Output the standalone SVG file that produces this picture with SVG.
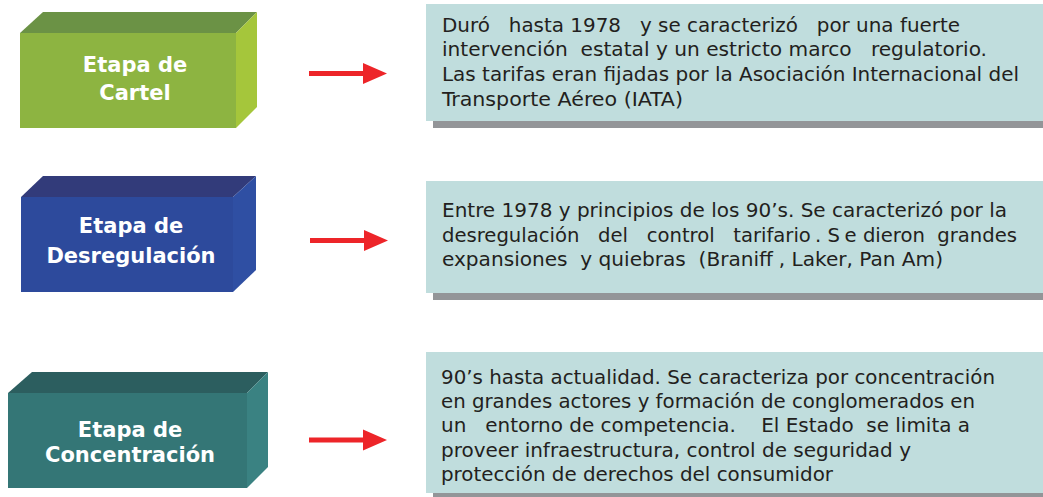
<svg xmlns="http://www.w3.org/2000/svg" width="1043" height="497" viewBox="0 0 1043 497">
<style>
.lbl{font-family:"DejaVu Sans","Liberation Sans",sans-serif;font-weight:bold;font-size:21px;fill:#ffffff;text-anchor:middle}
.txt{font-family:"DejaVu Sans Condensed","DejaVu Sans","Liberation Sans",sans-serif;font-stretch:condensed;font-size:19px;fill:#231f20}
.card{fill:#c0dddd}
.shadow{fill:#939598}
.arrow{fill:#ed2529}
</style>
<defs>
<path id="arr" d="M0,-2.5 H54 V-10.5 L78,0 L54,10.5 V2.5 H0 Z"/>
</defs>
<rect width="1043" height="497" fill="#ffffff"/>

<g id="node-cartel">
<polygon points="20,33 43,12 257,12 236,33" fill="#6b9245"/>
<polygon points="236,33 257,12 257,107 236,128" fill="#a5c63b"/>
<rect x="20" y="33" width="216" height="95" fill="#8db441"/>
<text class="lbl" x="135" y="72">Etapa de</text>
<text class="lbl" x="135" y="100">Cartel</text>
</g>

<g id="node-desregulacion">
<polygon points="21,197 43,176 256,176 233,197" fill="#323b7a"/>
<polygon points="233,197 256,176 256,270 233,292" fill="#2f4fa3"/>
<rect x="21" y="197" width="212" height="95" fill="#2d4a9c"/>
<text class="lbl" x="131" y="233">Etapa de</text>
<text class="lbl" x="131" y="263">Desregulación</text>
</g>

<g id="node-concentracion">
<polygon points="8,393 32,372 268,372 247,393" fill="#2c5e5f"/>
<polygon points="247,393 268,372 268,467 247,488" fill="#3a8282"/>
<rect x="8" y="393" width="239" height="95" fill="#347676"/>
<text class="lbl" x="130" y="437">Etapa de</text>
<text class="lbl" x="130" y="462">Concentración</text>
</g>

<g id="connectors">
<use href="#arr" class="arrow" transform="translate(309,73.5)"/>
<use href="#arr" class="arrow" transform="translate(310,240.5)"/>
<use href="#arr" class="arrow" transform="translate(309,440)"/>
</g>

<g id="node-desc-cartel">
<rect class="shadow" x="433" y="11" width="617" height="117"/>
<rect class="card" x="426" y="4" width="617" height="117"/>
<text class="txt" xml:space="preserve" x="442" y="32" textLength="518" lengthAdjust="spacingAndGlyphs">Duró   hasta 1978   y se caracterizó   por una fuerte</text>
<text class="txt" xml:space="preserve" x="442" y="56" textLength="545" lengthAdjust="spacingAndGlyphs">intervención  estatal y un estricto marco   regulatorio.</text>
<text class="txt" x="442" y="81" textLength="577" lengthAdjust="spacingAndGlyphs">Las tarifas eran fijadas por la Asociación Internacional del</text>
<text class="txt" x="442" y="106" textLength="241" lengthAdjust="spacingAndGlyphs">Transporte Aéreo (IATA)</text>
</g>

<g id="node-desc-desregulacion">
<rect class="shadow" x="433" y="188" width="617" height="112"/>
<rect class="card" x="426" y="181" width="617" height="112"/>
<text class="txt" x="442" y="217" textLength="565" lengthAdjust="spacingAndGlyphs">Entre 1978 y principios de los 90’s. Se caracterizó por la</text>
<text class="txt" xml:space="preserve" x="442" y="242" textLength="575" lengthAdjust="spacingAndGlyphs">desregulación   del   control   tarifario<tspan dx="4">.</tspan> S<tspan dx="4">e</tspan> dieron  grandes</text>
<text class="txt" xml:space="preserve" x="442" y="266" textLength="501" lengthAdjust="spacingAndGlyphs">expansiones  y quiebras  (Braniff<tspan dx="5">,</tspan> Laker, Pan Am)</text>
</g>

<g id="node-desc-concentracion">
<rect class="shadow" x="433" y="359" width="617" height="141"/>
<rect class="card" x="426" y="352" width="617" height="141"/>
<text class="txt" x="441" y="384" textLength="554" lengthAdjust="spacingAndGlyphs">90’s hasta actualidad. Se caracteriza por concentración</text>
<text class="txt" x="441" y="408" textLength="534" lengthAdjust="spacingAndGlyphs">en grandes actores y formación de conglomerados en</text>
<text class="txt" xml:space="preserve" x="441" y="432" textLength="529" lengthAdjust="spacingAndGlyphs">un   entorno de competencia.    El Estado  se limita a</text>
<text class="txt" x="441" y="457" textLength="470" lengthAdjust="spacingAndGlyphs">proveer infraestructura, control de seguridad y</text>
<text class="txt" x="441" y="481" textLength="392" lengthAdjust="spacingAndGlyphs">protección de derechos del consumidor</text>
</g>
</svg>
